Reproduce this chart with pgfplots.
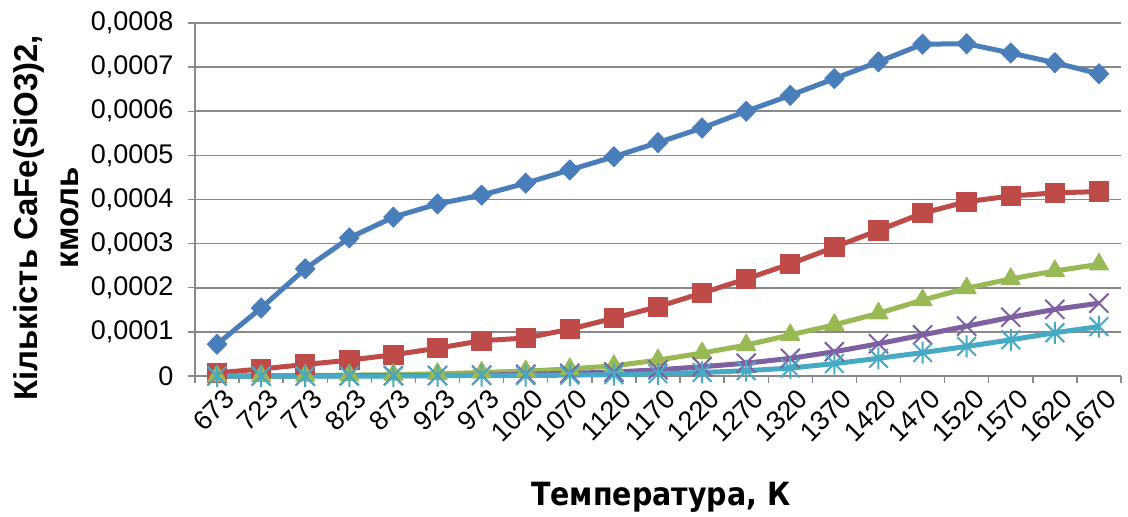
\documentclass[border=0pt]{standalone}
\usepackage{pgfplots}
\pgfplotsset{compat=1.18}
\usepackage{pgfplotstable}
\usepackage{fontspec}
\setmainfont{Liberation Sans}
\newfontfamily\xlabfont[FakeStretch=0.89]{DejaVu Sans}

\definecolor{sBlue}{HTML}{4A7EBB}
\definecolor{sRed}{HTML}{BE4B48}
\definecolor{sGreen}{HTML}{98B954}
\definecolor{sPurple}{HTML}{7D60A0}
\definecolor{sCyan}{HTML}{46AAC5}
\definecolor{gridGray}{HTML}{898989}

% x-shaped cross with a vertical bar through it
\pgfdeclareplotmark{xast}{%
  \pgfpathmoveto{\pgfpoint{-0.85\pgfplotmarksize}{-0.85\pgfplotmarksize}}%
  \pgfpathlineto{\pgfpoint{0.85\pgfplotmarksize}{0.85\pgfplotmarksize}}%
  \pgfpathmoveto{\pgfpoint{-0.85\pgfplotmarksize}{0.85\pgfplotmarksize}}%
  \pgfpathlineto{\pgfpoint{0.85\pgfplotmarksize}{-0.85\pgfplotmarksize}}%
  \pgfpathmoveto{\pgfpoint{0pt}{-\pgfplotmarksize}}%
  \pgfpathlineto{\pgfpoint{0pt}{\pgfplotmarksize}}%
  \pgfusepathqstroke
}

% amount of CaFe(SiO3)2 (kmol) vs temperature index
\pgfplotstableread{
idx blue     red      green     purple    cyan
0   0.000072 0.000007 0         0         0
1   0.000154 0.000016 0.0000005 0         0
2   0.000243 0.000026 0.000001  0         0
3   0.000313 0.000036 0.000002  0.0000005 0
4   0.000360 0.000048 0.000003  0.000001  0
5   0.000390 0.000063 0.000005  0.000001  0.0000005
6   0.000410 0.000080 0.000008  0.000002  0.000001
7   0.000437 0.000086 0.000011  0.000004  0.000001
8   0.000467 0.000106 0.000016  0.000006  0.000002
9   0.000497 0.000131 0.000023  0.000009  0.000003
10  0.000529 0.000157 0.000036  0.000014  0.000005
11  0.000562 0.000188 0.000052  0.000021  0.000008
12  0.000600 0.000220 0.000070  0.000029  0.000012
13  0.000636 0.000254 0.000093  0.000040  0.000018
14  0.000674 0.000292 0.000116  0.000055  0.000028
15  0.000712 0.000330 0.000142  0.000073  0.000040
16  0.000752 0.000369 0.000172  0.000093  0.000053
17  0.000753 0.000395 0.000199  0.000113  0.000067
18  0.000732 0.000408 0.000220  0.000133  0.000082
19  0.000710 0.000415 0.000238  0.000151  0.000098
20  0.000685 0.000418 0.000253  0.000165  0.000112
}\datatable

\begin{document}
\begin{tikzpicture}
\path[use as bounding box] (0pt,0pt) rectangle (1128pt,517pt);
\begin{axis}[
  at={(195pt,141pt)}, anchor=south west,
  scale only axis, width=926pt, height=353pt,
  xmin=-0.5, xmax=20.5, ymin=0, ymax=0.0008,
  axis lines*=left,
  axis line style={draw=gridGray, line width=1.6pt},
  xtick={0,...,20},
  xticklabels={673,723,773,823,873,923,973,1020,1070,1120,1170,1220,1270,1320,1370,1420,1470,1520,1570,1620,1670},
  major x tick style={draw=none},
  minor xtick={-0.5,0.5,...,20.5},
  minor x tick style={draw=gridGray, line width=1.4pt},
  minor tick length=7pt,
  ytick={0,0.0001,...,0.0008},
  yticklabels={{0},{0,0001},{0,0002},{0,0003},{0,0004},{0,0005},{0,0006},{0,0007},{0,0008}},
  scaled y ticks=false,
  major tick length=7pt,
  tick align=outside,
  y tick style={draw=gridGray, line width=1.4pt},
  ymajorgrids,
  grid style={draw=gridGray, line width=1.6pt},
  /pgf/number format/assume math mode=true,
  ticklabel style={font=\fontsize{27}{32}\selectfont, text=black},
  xticklabel style={rotate=45, anchor=east, inner sep=1pt, yshift=-17pt, xshift=2pt},
  yticklabel style={xshift=-11pt},
  xlabel={Температура, К},
  xlabel style={font=\xlabfont\bfseries\fontsize{32}{36}\selectfont, at={(axis description cs:0.503,-0.343)}, anchor=center},
  ylabel={Кількість CaFe(SiO3)2,\\кмоль},
  ylabel style={font=\bfseries\fontsize{33}{41}\selectfont, align=center, at={(axis description cs:-0.161,0.448)}, anchor=center, rotate=0},
  every axis plot/.append style={line width=5pt, line join=round},
  clip=false,
]
\addplot[color=sBlue, mark=diamond*, mark size=10pt, mark options={xscale=1.3, line width=1pt}] table[x=idx, y=blue] {\datatable};
\addplot[color=sRed, mark=square*, mark size=9.7pt, mark options={line width=1pt}] table[x=idx, y=red] {\datatable};
\addplot[color=sGreen, mark=triangle*, mark size=11pt, mark options={line width=1pt}] table[x=idx, y=green] {\datatable};
\addplot[color=sPurple, mark=x, mark size=13.5pt, mark options={line width=2pt}] table[x=idx, y=purple] {\datatable};
\addplot[color=sCyan, mark=xast, mark size=11pt, mark options={line width=2pt}] table[x=idx, y=cyan] {\datatable};
\end{axis}
\end{tikzpicture}
\end{document}
